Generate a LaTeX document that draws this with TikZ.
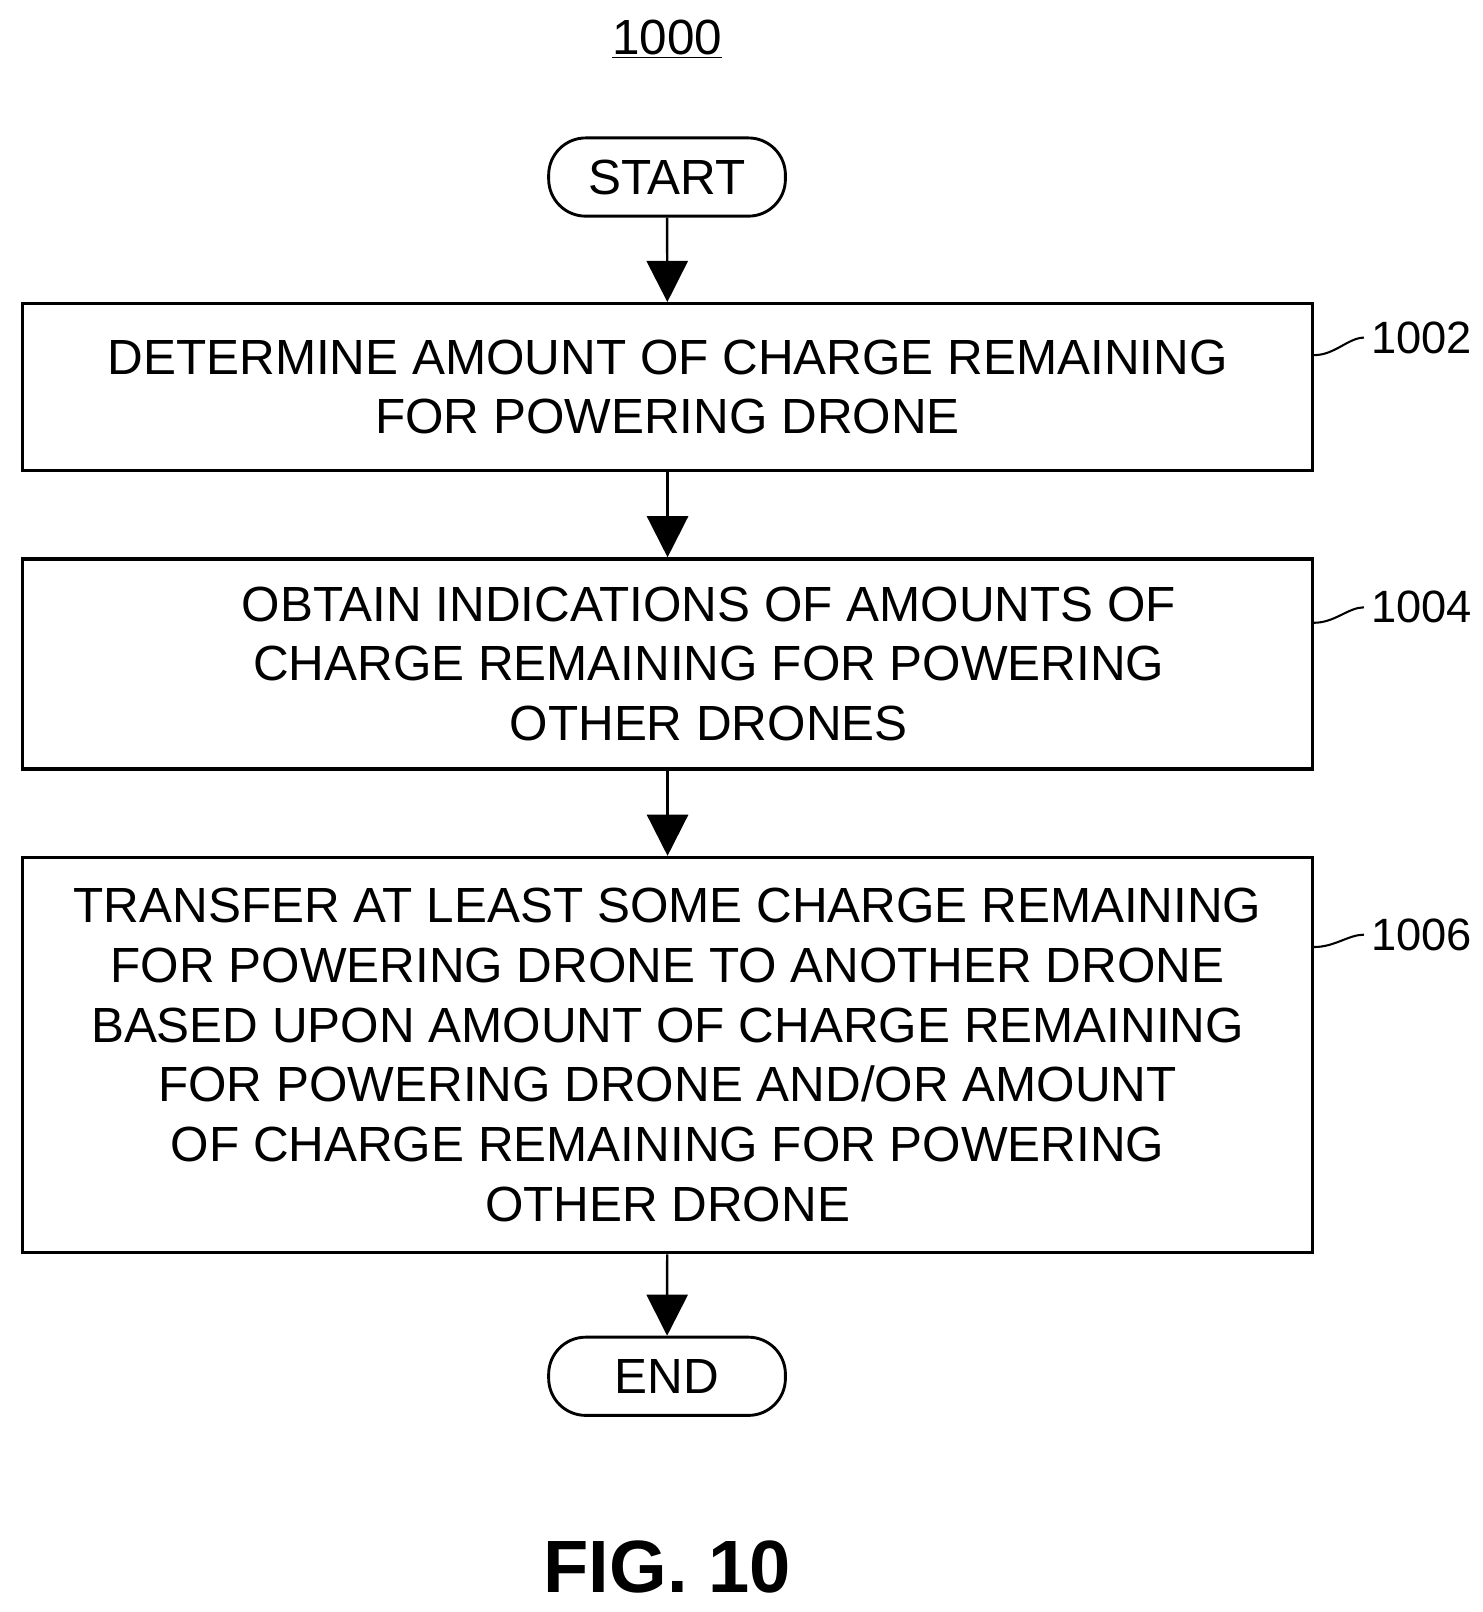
\documentclass[tikz,border=0pt]{standalone}
\usepackage{fontspec}
\setmainfont{Liberation Sans}
\usetikzlibrary{arrows.meta,positioning}
\begin{document}
\begin{tikzpicture}[x=0.5pt,y=-0.5pt,
  box/.style={draw,line width=1.6pt,minimum width=626.5pt,align=center,font=\fontsize{24}{29}\selectfont,inner sep=0pt},
  term/.style={draw,line width=1.4pt,rounded corners=18pt,minimum width=115pt,minimum height=38pt,font=\fontsize{24}{29}\selectfont},
  arr/.style={line width=1.2pt,-{Triangle[length=20pt,width=20pt]}},
  lbl/.style={font=\fontsize{22}{26}\selectfont,anchor=west}]
\useasboundingbox (0,0) rectangle (1440,1566);
\node[font=\fontsize{24}{29}\selectfont] (t) at (648,38) {\underline{1000}};
\node[term] (s) at (648,172) {START};
\node[box,minimum height=81pt] (b1) at (648.5,376) {DETERMINE AMOUNT OF CHARGE REMAINING\\FOR POWERING DRONE};
\node[box,minimum height=102pt] (b2) at (648.5,645) {\hspace*{40pt}OBTAIN INDICATIONS OF AMOUNTS OF\\\hspace*{40pt}CHARGE REMAINING FOR POWERING\\\hspace*{40pt}OTHER DRONES};
\node[box,minimum height=192pt] (b3) at (648.5,1025) {TRANSFER AT LEAST SOME CHARGE REMAINING\\FOR POWERING DRONE TO ANOTHER DRONE\\BASED UPON AMOUNT OF CHARGE REMAINING\\FOR POWERING DRONE AND/OR AMOUNT\\OF CHARGE REMAINING FOR POWERING\\OTHER DRONE};
\node[term] (e) at (648,1337) {END};
\node[font=\bfseries\fontsize{36}{40}\selectfont] (f) at (648,1522) {FIG. 10};
\draw[arr] (s) -- (b1);
\draw[arr] (b1) -- (b2);
\draw[arr] (b2) -- (b3);
\draw[arr] (b3) -- (e);
\node[lbl] (l1) at (1325,328) {1002};
\node[lbl] (l2) at (1325,590) {1004};
\node[lbl] (l3) at (1325,908) {1006};
\foreach \b/\l/\y in {b1/l1/345,b2/l2/605,b3/l3/920}{
  \draw[line width=1pt] (\b.east|-0,\y) .. controls +(20,0) and +(-15,0) .. (\l.west);}
\end{tikzpicture}
\end{document}
